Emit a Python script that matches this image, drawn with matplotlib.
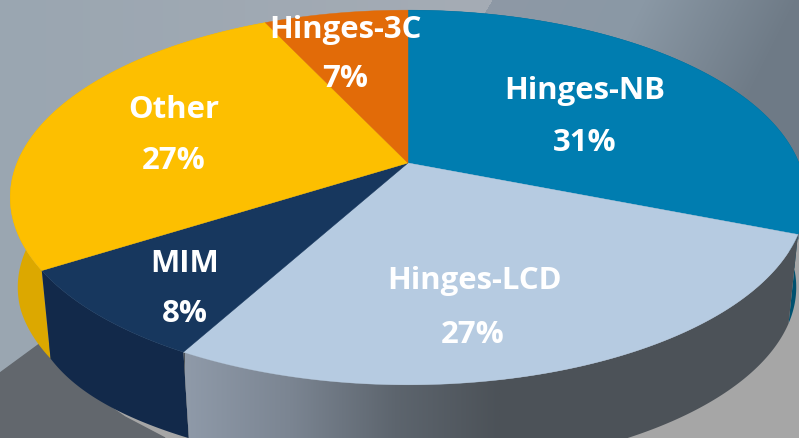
import numpy as np
import matplotlib
matplotlib.use("Agg")
import matplotlib.pyplot as plt
from matplotlib.colors import LinearSegmentedColormap
from matplotlib.patches import Polygon

names = ["Hinges-NB", "Hinges-LCD", "MIM", "Other", "Hinges-3C"]
shares = [31, 27, 8, 27, 7]
top_colors = ["#007db0", "#b6cbe1", "#17375e", "#fdbf00", "#e26b08"]
wall_colors = ["#00516f", "#4c5258", "#12294a", "#dca800", "#a04c05"]
name_pos = [(585, 89), (474, 279), (185, 262), (174, 108), (345, 28)]
pct_pos = [(585, 141), (473, 333), (185, 312), (174, 159), (345, 77)]

W, H = 799, 438
CX, CY = 408, 163
RX, RY, K = 391, 181, 0.184
DEPTH_SCALE, DEPTH_SHIFT = 0.976, 94.5


def project(deg):
    t = np.radians(deg)
    u = np.sin(t)
    v = np.cos(t)
    d = 1 + K * v
    return CX + RX * u / d, CY - RY * v / d


def drop(x, y, deg):
    # same point on the lower rim, a little fuller on the left side
    bx = CX + (x - CX) * DEPTH_SCALE
    by = y * DEPTH_SCALE + DEPTH_SHIFT
    bulge = np.where(deg < 237.6, np.sin(np.pi * (deg - 208.8) / 28.8), 0)
    bulge = np.where(deg < 208.8, 0, bulge)
    left = np.clip((deg - 237.6) / 15, 0, 1) * 2
    return bx - 4 * bulge - left, by


def gradient(ax, extent, stops, clip, zorder):
    cmap = LinearSegmentedColormap.from_list("g", stops)
    ramp = np.linspace(0, 1, 256).reshape(1, -1)
    im = ax.imshow(ramp, cmap=cmap, extent=extent, aspect="auto", zorder=zorder, vmin=0, vmax=1)
    im.set_clip_path(clip)


fig = plt.figure(figsize=(7.99, 4.38), dpi=100)
ax = fig.add_axes([0, 0, 1, 1])

# background, two panels meeting on a slanted edge near the top
yy, xx = np.mgrid[0:H, 0:W]
left_cmap = LinearSegmentedColormap.from_list("bgl", ["#9aa6b1", "#a5acb5"])
right_cmap = LinearSegmentedColormap.from_list("bgr", ["#8e99a5", "#8a98a5", "#6e7a86"])
bg = np.zeros((H, W, 3))
edge = 492 - yy * 0.6
is_left = xx < edge
left_rgb = left_cmap(np.clip(xx / 490, 0, 1))[..., :3]
right_rgb = right_cmap(np.clip((xx - 490 + yy * 0.5) / 310, 0, 1))[..., :3]
bg[is_left] = left_rgb[is_left]
bg[~is_left] = right_rgb[~is_left]
ax.imshow(bg, extent=(0, W, H, 0), aspect="auto", zorder=0)

ax.add_patch(Polygon([(100, 438), (100, 380), (799, 240), (799, 438)], color="#a6a6a6", zorder=0.5))
ax.add_patch(Polygon([(0, 373), (45, 340), (93, 395), (125, 417), (165, 438), (0, 438)],
                     color="#62676d", zorder=0.6))

starts = np.cumsum([0] + shares[:-1]) * 3.6
ends = np.cumsum(shares) * 3.6

# side walls first, the top faces cover the back part
for i in [3, 2, 1, 0]:
    a = np.linspace(starts[i], ends[i], 200)
    x, y = project(a)
    bx, by = drop(x, y, a)
    pts = np.r_[np.c_[x, y], np.c_[bx, by][::-1]]
    poly = Polygon(pts, closed=True, fc=wall_colors[i], ec="none", zorder=2 + (i == 1))
    ax.add_patch(poly)
    if names[i] == "Hinges-LCD":
        gradient(ax, (185, 500, H + 40, 300), ["#8f9aa9", "#7b8592", "#5d656e", "#4c5258"], poly, 3.1)

# top faces
for i in range(len(shares)):
    a = np.linspace(starts[i], ends[i], 200)
    x, y = project(a)
    pts = np.r_[[[CX, CY]], np.c_[x, y]]
    ax.add_patch(Polygon(pts, closed=True, fc=top_colors[i], ec=top_colors[i], lw=0.3, zorder=4))

font = ["Open Sans", "DejaVu Sans"]
for i in range(len(shares)):
    ax.text(name_pos[i][0], name_pos[i][1] + 2, names[i], color="white", fontsize=22.4, fontweight="bold",
            family=font, ha="center", va="center", zorder=5)
    ax.text(pct_pos[i][0], pct_pos[i][1] + 2, str(shares[i]) + "%", color="white", fontsize=22.4, fontweight="bold",
            family=font, ha="center", va="center", zorder=5)

ax.set_xlim(0, W)
ax.set_ylim(H, 0)
ax.axis("off")
fig.savefig("out.png", dpi=100)
